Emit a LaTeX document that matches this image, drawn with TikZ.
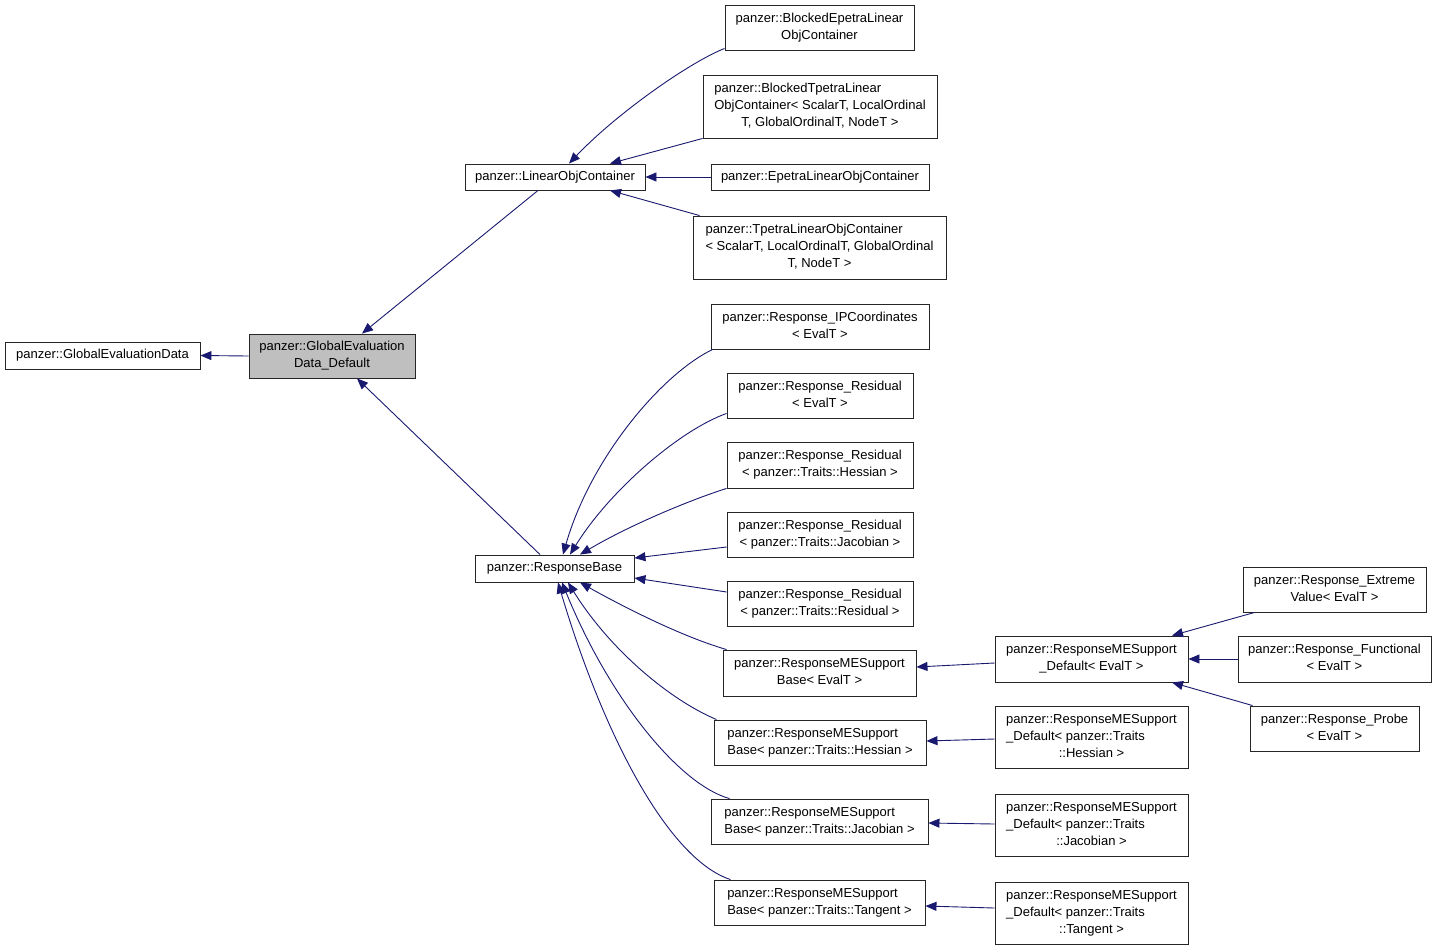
\documentclass[tikz,border=0pt]{standalone}
\usepackage{fontspec}
\setmainfont{Liberation Sans}
\usetikzlibrary{arrows.meta}
\definecolor{mblue}{HTML}{191970}
\definecolor{boxgray}{HTML}{BFBFBF}
\newcommand\dxlbl[2]{\begin{tabular}{@{}l@{}}#1\\\multicolumn{1}{@{}c@{}}{#2}\end{tabular}}
\begin{document}
\begin{tikzpicture}[x=1pt,y=-1pt,
  box/.style={draw=black!85, line width=0.9pt, rectangle, inner sep=0pt, fill=white,
    font=\fontsize{13}{17}\selectfont, text=black},
  edge/.style={draw=mblue, line width=0.9pt, -{Triangle[length=11pt,width=9pt]}},
]
\useasboundingbox[fill=white] (0,0) rectangle (1437,951);

\node[box, minimum width=195, minimum height=27] (ged) at (102.5,355.5) {panzer::GlobalEvaluationData};
\node[box, fill=boxgray, minimum width=166, minimum height=44] (gedd) at (332,356) {\dxlbl{panzer::GlobalEvaluation}{Data\_Default}};
\node[box, minimum width=180, minimum height=26] (loc) at (555,177) {panzer::LinearObjContainer};
\node[box, minimum width=159, minimum height=27] (rb) at (554.5,568.5) {panzer::ResponseBase};

\node[box, minimum width=189, minimum height=45] (be) at (819.5,27.5) {\dxlbl{panzer::BlockedEpetraLinear}{ObjContainer}};
\node[box, minimum width=234, minimum height=63] (bt) at (820,106.5) {\dxlbl{panzer::BlockedTpetraLinear\\ObjContainer< ScalarT, LocalOrdinal}{T, GlobalOrdinalT, NodeT >}};
\node[box, minimum width=218, minimum height=26] (ep) at (820,177) {panzer::EpetraLinearObjContainer};
\node[box, minimum width=253, minimum height=63] (tp) at (819.5,247.5) {\dxlbl{panzer::TpetraLinearObjContainer\\< ScalarT, LocalOrdinalT, GlobalOrdinal}{T, NodeT >}};

\node[box, minimum width=218, minimum height=45] (ip) at (820,326.5) {\dxlbl{panzer::Response\_IPCoordinates}{< EvalT >}};
\node[box, minimum width=186, minimum height=45] (r1) at (820,395.5) {\dxlbl{panzer::Response\_Residual}{< EvalT >}};
\node[box, minimum width=186, minimum height=46] (r2) at (820,465) {\dxlbl{panzer::Response\_Residual}{< panzer::Traits::Hessian >}};
\node[box, minimum width=186, minimum height=45] (r3) at (820,534.5) {\dxlbl{panzer::Response\_Residual}{< panzer::Traits::Jacobian >}};
\node[box, minimum width=186, minimum height=45] (r4) at (820,603.5) {\dxlbl{panzer::Response\_Residual}{< panzer::Traits::Residual >}};

\node[box, minimum width=193, minimum height=46] (m1) at (819.5,673) {\dxlbl{panzer::ResponseMESupport}{Base< EvalT >}};
\node[box, minimum width=212, minimum height=45] (m2) at (820,742.5) {\dxlbl{panzer::ResponseMESupport}{Base< panzer::Traits::Hessian >}};
\node[box, minimum width=217, minimum height=45] (m3) at (819.5,821.5) {\dxlbl{panzer::ResponseMESupport}{Base< panzer::Traits::Jacobian >}};
\node[box, minimum width=211, minimum height=45] (m4) at (819.5,902.5) {\dxlbl{panzer::ResponseMESupport}{Base< panzer::Traits::Tangent >}};

\node[box, minimum width=193, minimum height=46] (d1) at (1091.5,659) {\dxlbl{panzer::ResponseMESupport}{\_Default< EvalT >}};
\node[box, minimum width=193, minimum height=62] (d2) at (1091.5,737) {\dxlbl{panzer::ResponseMESupport\\\_Default< panzer::Traits}{::Hessian >}};
\node[box, minimum width=193, minimum height=62] (d3) at (1091.5,825) {\dxlbl{panzer::ResponseMESupport\\\_Default< panzer::Traits}{::Jacobian >}};
\node[box, minimum width=193, minimum height=62] (d4) at (1091.5,913) {\dxlbl{panzer::ResponseMESupport\\\_Default< panzer::Traits}{::Tangent >}};

\node[box, minimum width=183, minimum height=45] (ev) at (1334.5,589.5) {\dxlbl{panzer::Response\_Extreme}{Value< EvalT >}};
\node[box, minimum width=193, minimum height=46] (fn) at (1334.5,659) {\dxlbl{panzer::Response\_Functional}{< EvalT >}};
\node[box, minimum width=169, minimum height=45] (pr) at (1334.5,728.5) {\dxlbl{panzer::Response\_Probe}{< EvalT >}};

% edges
\draw[edge] (gedd.west) -- (ged.east);
\draw[edge] ([xshift=-17pt]loc.south) -- ([xshift=30pt]gedd.north);
\draw[edge] ([xshift=-14.5pt]rb.north) -- ([xshift=25pt]gedd.south);

\draw[edge] ([yshift=2pt]be.south west) .. controls (688,63) and (615,115) .. ([xshift=14pt]loc.north);
\draw[edge] (bt.south west) -- ([xshift=55pt]loc.north);
\draw[edge] (ep.west) -- (loc.east);
\draw[edge] ([xshift=7pt]tp.north west) -- ([xshift=55pt]loc.south);

\draw[edge] ([xshift=2pt]ip.south west) .. controls (660,375) and (590,460) .. ([xshift=8.5pt]rb.north);
\draw[edge] ([yshift=5pt]r1.south west) .. controls (680,430) and (610,490) .. ([xshift=15.5pt]rb.north);
\draw[edge] (r2.south west) .. controls (690,500) and (630,525) .. ([xshift=25.5pt]rb.north);
\draw[edge] ([yshift=-12.5pt]r3.west) -- ([yshift=10.5pt]rb.east);
\draw[edge] ([yshift=11.5pt]r4.west) -- ([yshift=-9.5pt]rb.east);

\draw[edge] ([xshift=4pt]m1.north west) .. controls (680,636) and (620,605) .. ([xshift=25.5pt]rb.south);
\draw[edge] ([xshift=3pt]m2.north west) .. controls (670,700) and (610,650) .. ([xshift=13.5pt]rb.south);
\draw[edge] ([xshift=19pt]m3.north west) .. controls (680,785) and (610,700) .. ([xshift=7.5pt]rb.south);
\draw[edge] ([xshift=17pt]m4.north west) .. controls (670,860) and (605,740) .. ([xshift=3.5pt]rb.south);

\draw[edge] ([yshift=-4pt]d1.west) -- ([yshift=6pt]m1.east);
\draw[edge] ([yshift=-2pt]d2.west) -- ([yshift=1.5pt]m2.east);
\draw[edge] ([yshift=1pt]d3.west) -- ([yshift=-1.5pt]m3.east);
\draw[edge] ([yshift=5pt]d4.west) -- ([yshift=-3.5pt]m4.east);

\draw[edge] ([xshift=12pt]ev.south west) -- ([xshift=80.5pt]d1.north);
\draw[edge] (fn.west) -- (d1.east);
\draw[edge] ([xshift=3pt]pr.north west) -- ([xshift=80.5pt]d1.south);
\end{tikzpicture}
\end{document}
